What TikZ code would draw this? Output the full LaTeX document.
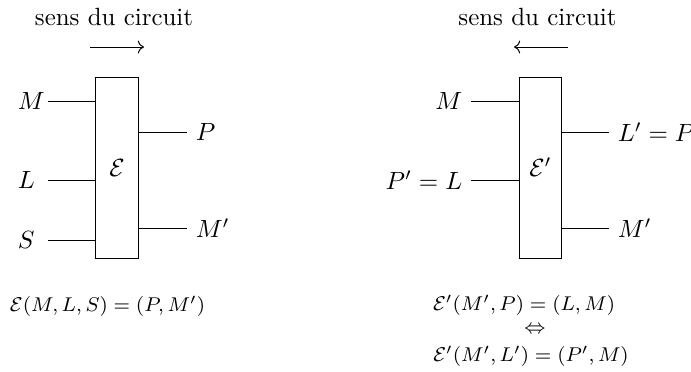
\documentclass[tikz,border=0pt]{standalone}
\usepackage{amsmath,amssymb}
\usetikzlibrary{arrows.meta,positioning}

\begin{document}
\begin{tikzpicture}[x=0.1411cm,y=0.1411cm,>={To},
      bloc/.style={draw,minimum width=0.593cm,minimum height=2.554cm,inner sep=0pt},
      entree/.style={anchor=west,inner sep=0pt},
      formule/.style={font=\fontsize{8.4}{10}\selectfont}]
    \useasboundingbox (0,0) rectangle (69.1,37.1);

    % bloc E, sens direct
    \node[bloc] (enc) at (11.7,20.35) {$\mathcal{E}$};
    \node (titreG) at (11.4,35.45) {sens du circuit};
    \coordinate (flecheGa) at (9.0,32.4);
    \coordinate (flecheGb) at (14.4,32.4);
    \draw[->] (flecheGa) -- (flecheGb);

    \coordinate (inM) at (4.8,27.0);
    \coordinate (inL) at (4.8,19.1);
    \coordinate (inS) at (4.8,13.1);
    \coordinate (outP) at (18.7,23.9);
    \coordinate (outMp) at (18.7,14.3);
    \node[entree] (labM) at (1.75,27.0) {$M$};
    \node[entree] (labL) at (1.75,19.1) {$L$};
    \node[entree] (labS) at (1.75,13.1) {$S$};
    \node[right] (labP) at (outP) {$P$};
    \node[right] (labMp) at (outMp) {$M'$};
    \draw (inM) -- (inM -| enc.west);
    \draw (inL) -- (inL -| enc.west);
    \draw (inS) -- (inS -| enc.west);
    \draw (outP -| enc.east) -- (outP);
    \draw (outMp -| enc.east) -- (outMp);

    \node[formule] (eqG) at (10.75,6.5) {$\mathcal{E}(M,L,S)=(P,M')$};

    % bloc E', sens inverse
    \node[bloc] (dec) at (54.05,20.35) {$\mathcal{E}'$};
    \node (titreD) at (53.75,35.45) {sens du circuit};
    \coordinate (flecheDa) at (56.8,32.4);
    \coordinate (flecheDb) at (51.4,32.4);
    \draw[->] (flecheDa) -- (flecheDb);

    \coordinate (inMd) at (47.1,27.0);
    \coordinate (inPp) at (47.1,19.1);
    \coordinate (outLp) at (60.9,23.9);
    \coordinate (outMpd) at (60.9,14.3);
    \node[left] (labMd) at (inMd) {$M$};
    \node[left] (labPp) at (inPp) {$P'=L$};
    \node[right] (labLp) at (outLp) {$L'=P$};
    \node[right] (labMpd) at (outMpd) {$M'$};
    \draw (inMd) -- (inMd -| dec.west);
    \draw (inPp) -- (inPp -| dec.west);
    \draw (outLp -| dec.east) -- (outLp);
    \draw (outMpd -| dec.east) -- (outMpd);

    \node[formule] (eqD1) at (52.4,6.6) {$\mathcal{E}'(M',P)=(L,M)$};
    \node[formule,inner sep=0pt] (equiv) at (53.5,4.1) {$\Leftrightarrow$};
    \node[formule] (eqD2) at (53.1,1.45) {$\mathcal{E}'(M',L')=(P',M)$};
  \end{tikzpicture}
\end{document}
